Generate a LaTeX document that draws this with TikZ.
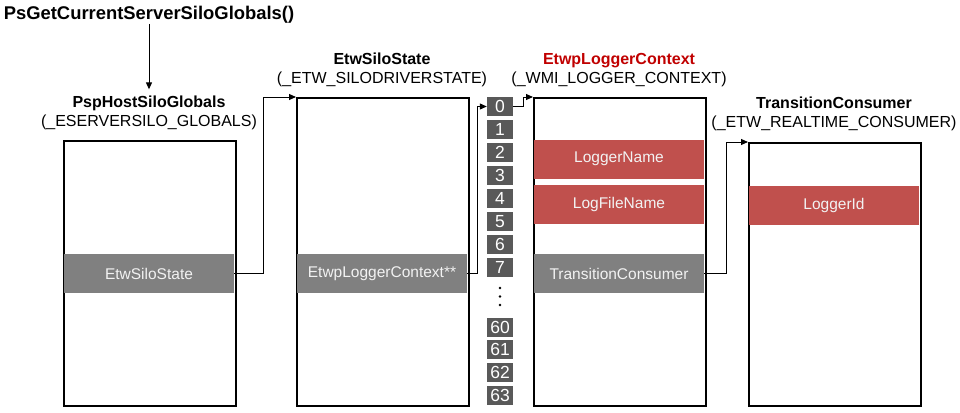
\documentclass[tikz,border=0pt]{standalone}
\usepackage{fontspec}
\setmainfont{Liberation Sans}
\usetikzlibrary{arrows.meta,positioning}
\definecolor{bandgray}{HTML}{808080}
\definecolor{cellgray}{HTML}{595959}
\definecolor{fieldred}{HTML}{C0504D}
\definecolor{titlered}{HTML}{C00000}
\definecolor{bandtext}{HTML}{F2F2F2}
\tikzset{
  structbox/.style={draw=black,line width=2pt,fill=white,anchor=north west,
    inner sep=0pt,minimum width=172pt},
  field/.style={fill=bandgray,text=bandtext,minimum width=170pt,minimum height=39pt,
    inner sep=0pt,font=\fontsize{15.5}{18}\selectfont},
  redfield/.style={field,fill=fieldred},
  slot/.style={fill=cellgray,text=white,minimum width=26pt,minimum height=19pt,
    inner sep=0pt,font=\fontsize{17.5}{19}\selectfont},
  header/.style={align=center,font=\fontsize{16}{19}\selectfont,inner sep=0pt},
  ptr/.style={-{Triangle[length=7pt,width=6pt]},draw=black,line width=1pt}
}

\begin{document}
\begin{tikzpicture}[x=1pt,y=-1pt]
  \useasboundingbox (0,0) rectangle (960,412);

  \node[font=\bfseries\fontsize{18.4}{20}\selectfont,inner sep=0pt] (getsilo) at (149,15)
    {PsGetCurrentServerSiloGlobals()};

  % structures
  \node[structbox,minimum height=265pt] (hostsilo) at (63,140) {};
  \node[structbox,minimum height=308pt] (silostate) at (296,97) {};
  \node[structbox,minimum height=308pt] (loggerctx) at (533,97) {};
  \node[structbox,minimum height=263pt] (consumer) at (748,142) {};

  \node[header] (hostname) at (149,112.5)
    {\textbf{PspHostSiloGlobals}\\(\_ESERVERSILO\_GLOBALS)};
  \node[header] (silostatename) at (382,69.5)
    {\textbf{EtwSiloState}\\(\_ETW\_SILODRIVERSTATE)};
  \node[header] (loggerctxname) at (619,70)
    {\textbf{\color{titlered}EtwpLoggerContext}\\(\_WMI\_LOGGER\_CONTEXT)};
  \node[header] (consumername) at (834,113.5)
    {\textbf{TransitionConsumer}\\(\_ETW\_REALTIME\_CONSUMER)};

  % fields
  \node[field] (hostsilostate) at (149,273.5) {EtwSiloState};
  \node[field] (silologgerctx) at (382,273.5) {EtwpLoggerContext**};
  \node[redfield] (loggername) at (619,159) {LoggerName};
  \node[redfield] (logfilename) at (619,204.5) {LogFileName};
  \node[field] (transconsumer) at (619,273.5) {TransitionConsumer};
  \node[redfield] (loggerid) at (834,205) {LoggerId};

  % logger context array
  \foreach \i in {0,...,7}
    \node[slot] (idx\i) at (500,106.5+23*\i) {\i};
  \foreach \i [count=\k from 0] in {60,...,63}
    \node[slot] (idx\i) at (500,327+22.7*\k) {\i};
  \foreach \d in {288,296.5,305}
    \fill (500,\d) circle (1.4pt);

  % pointers
  \draw[ptr] (getsilo.south) -- ([yshift=6pt]hostname.north);
  \draw[ptr] (hostsilostate.east) -- ++(29,0) |- (silostate.north west);
  \draw[ptr] (silologgerctx.east) -- ++(10,0) |- (idx0.west);
  \draw[ptr] (idx0.east) -- ++(10,0) |- (loggerctx.north west);
  \draw[ptr] (transconsumer.east) -- ++(22,0) |- (consumer.north west);
\end{tikzpicture}
\end{document}
